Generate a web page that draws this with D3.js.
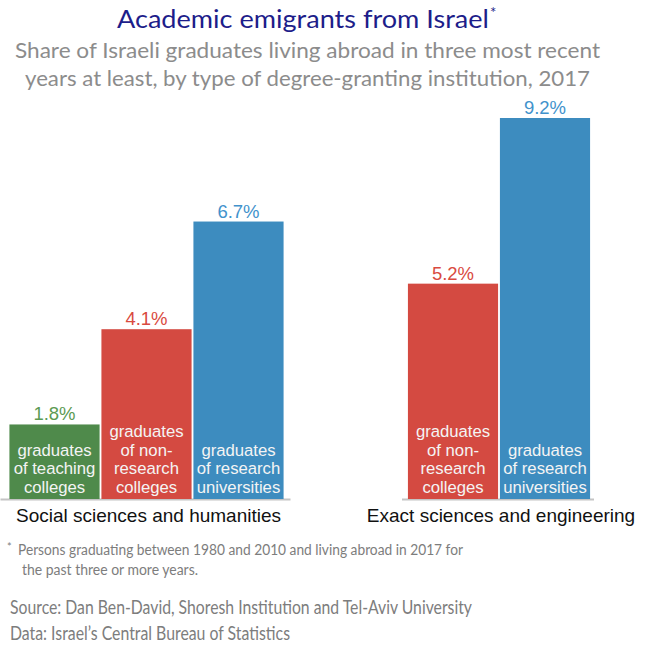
<!DOCTYPE html>
<html>
<head>
<meta charset="utf-8">
<script src="https://cdn.jsdelivr.net/npm/d3@7"></script>
<style>
  body { margin: 0; background: #fff; }
  svg { display: block; }
</style>
</head>
<body>
<svg id="chart" width="654" height="645"></svg>
<script>
const groups = ["Social sciences and humanities", "Exact sciences and engineering"];
const socialTypes = ["teaching", "nonresearch", "research"];
const exactTypes = ["nonresearch", "research"];
const socialValues = [1.8, 4.1, 6.7];
const exactValues = [5.2, 9.2];
const typeLabels = {
  teaching: ["graduates", "of teaching", "colleges"],
  nonresearch: ["graduates", "of non-", "research", "colleges"],
  research: ["graduates", "of research", "universities"]
};
const typeColors = { teaching: "#4f8a4b", nonresearch: "#d44a41", research: "#3d8cbf" };
const valueColors = { teaching: "#5b9a52", nonresearch: "#d94a40", research: "#4192cc" };

const data = [
  { group: groups[0], types: socialTypes, values: socialValues },
  { group: groups[1], types: exactTypes, values: exactValues }
];

const svg = d3.select("#chart");
const baseY = 499;
const y = d3.scaleLinear().domain([0, 9.2]).range([baseY, 118]);
const gx = d3.scalePoint().domain(groups).range([146.5, 499]);
const barW = 92;

function fitText(sel, len) {
  return sel.attr("textLength", len).attr("lengthAdjust", "spacingAndGlyphs");
}

// titles
fitText(svg.append("text").attr("x", 117).attr("y", 28)
  .attr("font-family", "Lato").attr("font-size", 25).attr("fill", "#1d1d8a")
  .text("Academic emigrants from Israel"), 372);
svg.append("text").attr("x", 490).attr("y", 18)
  .attr("font-family", "Lato").attr("font-size", 15).attr("fill", "#1d1d8a").text("*");
fitText(svg.append("text").attr("x", 15).attr("y", 58)
  .attr("font-family", "Lato").attr("font-size", 20.5).attr("fill", "#8c8c8c")
  .text("Share of Israeli graduates living abroad in three most recent"), 585);
fitText(svg.append("text").attr("x", 25).attr("y", 86)
  .attr("font-family", "Lato").attr("font-size", 20.5).attr("fill", "#8c8c8c")
  .text("years at least, by type of degree-granting institution, 2017"), 565);

data.forEach(d => {
  const n = d.types.length;
  const cx = gx(d.group);
  const x = d3.scaleBand().domain(d.types)
    .range([cx - n * barW / 2, cx + n * barW / 2]).paddingInner(0.02).paddingOuter(0.01);
  const g = svg.append("g");
  // baseline
  g.append("line")
    .attr("x1", x.range()[0] - (n === 3 ? 8 : 5)).attr("x2", x.range()[1] + (n === 3 ? 6 : 3))
    .attr("y1", baseY + 0.5).attr("y2", baseY + 0.5)
    .attr("stroke", "#c4c4c4").attr("stroke-width", 2);
  d.types.forEach((t, i) => {
    const v = d.values[i];
    g.append("rect").attr("x", x(t)).attr("width", x.bandwidth())
      .attr("y", y(v)).attr("height", baseY - y(v)).attr("fill", typeColors[t]);
    g.append("text").attr("x", x(t) + x.bandwidth() / 2).attr("y", y(v) - 4)
      .attr("text-anchor", "middle").attr("font-family", "Liberation Sans")
      .attr("font-size", 18.5).attr("fill", valueColors[t]).text(v.toFixed(1) + "%");
    const lines = typeLabels[t];
    lines.forEach((ln, j) => {
      g.append("text").attr("x", x(t) + x.bandwidth() / 2)
        .attr("y", 493 - (lines.length - 1 - j) * 18.7)
        .attr("text-anchor", "middle").attr("font-family", "Liberation Sans")
        .attr("font-size", 16.7).attr("fill", "#f4f4f4").text(ln);
    });
  });
  svg.append("text").attr("x", cx + 2).attr("y", 522).attr("text-anchor", "middle")
    .attr("font-family", "Liberation Sans").attr("font-size", 19).attr("fill", "#111")
    .text(d.group);
});

// footnotes
const foot = svg.append("g").attr("font-family", "Lato").attr("fill", "#7d7d7d");
foot.append("text").attr("x", 7).attr("y", 551).attr("font-size", 11).text("*");
fitText(foot.append("text").attr("x", 18).attr("y", 555).attr("font-size", 15.5)
  .text("Persons graduating  between 1980 and 2010 and living abroad in 2017 for"), 445);
fitText(foot.append("text").attr("x", 22).attr("y", 575).attr("font-size", 15.5)
  .text("the past three or more years."), 176);
fitText(foot.append("text").attr("x", 10).attr("y", 614).attr("font-size", 18.5)
  .text("Source: Dan Ben-David, Shoresh Institution and Tel-Aviv University"), 462);
fitText(foot.append("text").attr("x", 10).attr("y", 640).attr("font-size", 18.5)
  .text("Data: Israel\u2019s Central Bureau of Statistics"), 280);
</script>
</body>
</html>
